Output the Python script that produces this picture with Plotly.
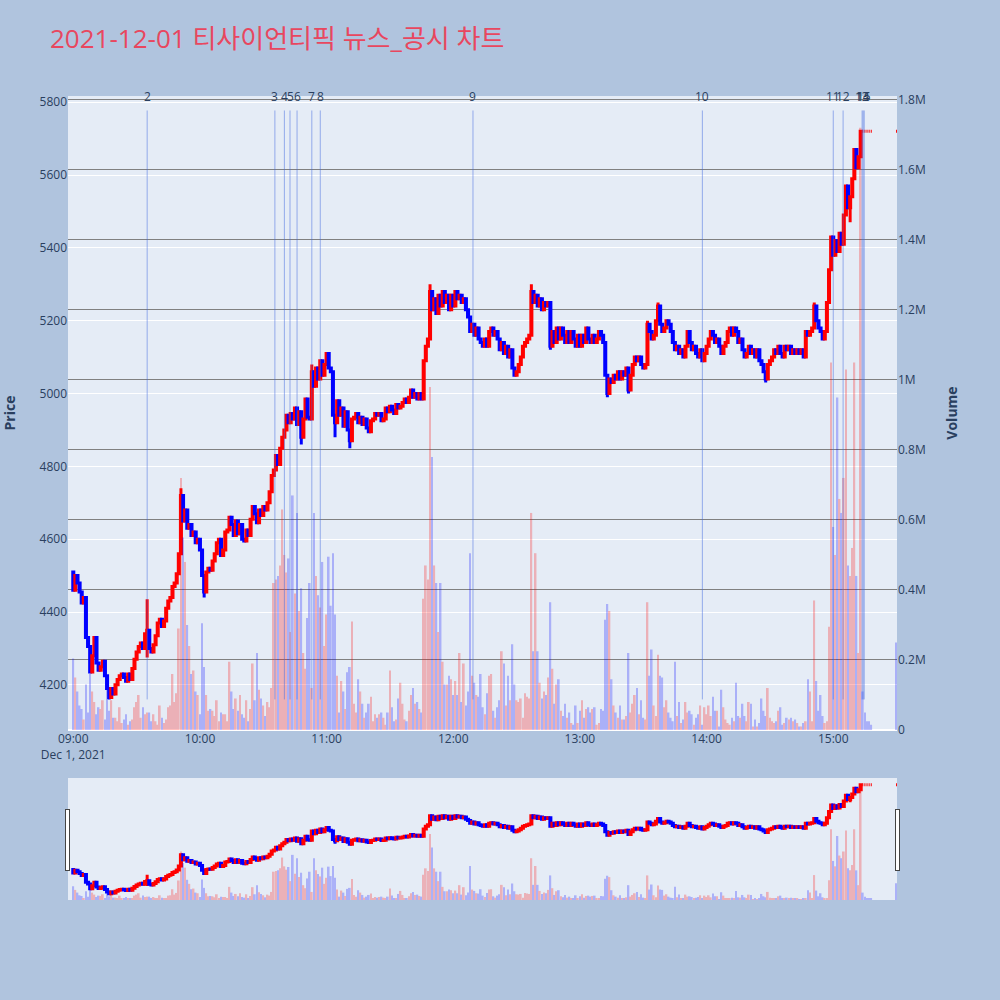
import pandas as pd
import plotly.graph_objects as go

chart_title = "2021-12-01 티사이언티픽 뉴스_공시 차트"
trade_date = "2021-12-01"

first_open = 4510
# 1-minute closes from 09:00 (10 per row)
closes = [
    4460, 4500, 4480, 4455, 4425, 4440, 4330, 4305, 4235, 4280,  # 09:00
    4330, 4260, 4240, 4250, 4265, 4225, 4190, 4165, 4190, 4175,
    4200, 4215, 4225, 4230, 4220, 4210, 4230, 4215, 4245, 4270,
    4290, 4305, 4315, 4300, 4340, 4350, 4300, 4290, 4310, 4335,
    4370, 4380, 4360, 4375, 4410, 4430, 4440, 4470, 4480, 4505,
    4560, 4720, 4650, 4680, 4630, 4640, 4610, 4620, 4590, 4600,
    4570, 4500, 4455, 4510, 4520, 4515, 4540, 4560, 4590, 4600,  # 10:00
    4555, 4570, 4620, 4625, 4660, 4640, 4610, 4650, 4615, 4640,
    4600, 4595, 4625, 4610, 4655, 4690, 4670, 4645, 4680, 4665,
    4690, 4680, 4700, 4730, 4775, 4790, 4830, 4805, 4850, 4880,
    4900, 4940, 4920, 4945, 4930, 4960, 4915, 4950, 4880, 4930,
    4985, 4935, 4930, 5060, 5020, 5070, 5040, 5090, 5050, 5080,
    5110, 5070, 5060, 4940, 4920, 4980, 4940, 4960, 4910, 4950,  # 11:00
    4900, 4870, 4930, 4935, 4945, 4920, 4935, 4915, 4930, 4905,
    4895, 4925, 4930, 4945, 4940, 4945, 4925, 4930, 4960, 4950,
    4965, 4955, 4945, 4970, 4960, 4965, 4975, 4985, 4975, 4990,
    5010, 4990, 5000, 4985, 5000, 4985, 5090, 5130, 5150, 5280,
    5230, 5260, 5220, 5270, 5240, 5280, 5250, 5270, 5230, 5270,
    5240, 5280, 5260, 5270, 5250, 5260, 5230, 5210, 5170, 5190,  # 12:00
    5160, 5180, 5150, 5140, 5130, 5150, 5130, 5170, 5180, 5160,
    5170, 5150, 5120, 5140, 5110, 5130, 5100, 5120, 5070, 5050,
    5060, 5080, 5100, 5130, 5140, 5150, 5160, 5280, 5250, 5270,
    5240, 5260, 5230, 5250, 5240, 5250, 5130, 5170, 5140, 5180,
    5150, 5180, 5160, 5140, 5170, 5140, 5170, 5150, 5130, 5160,
    5130, 5160, 5140, 5180, 5150, 5140, 5160, 5140, 5150, 5170,  # 13:00
    5160, 5140, 5050, 5000, 5040, 5030, 5050, 5040, 5060, 5040,
    5060, 5050, 5070, 5010, 5050, 5080, 5100, 5090, 5100, 5080,
    5070, 5080, 5190, 5170, 5150, 5160, 5200, 5240, 5190, 5170,
    5180, 5200, 5190, 5170, 5140, 5120, 5130, 5110, 5120, 5100,
    5130, 5170, 5140, 5120, 5130, 5110, 5100, 5120, 5090, 5110,
    5130, 5150, 5170, 5160, 5140, 5150, 5130, 5110, 5130, 5140,  # 14:00
    5170, 5180, 5160, 5180, 5170, 5140, 5150, 5120, 5100, 5110,
    5130, 5110, 5120, 5100, 5120, 5090, 5080, 5060, 5040, 5080,
    5090, 5100, 5120, 5110, 5130, 5110, 5100, 5130, 5120, 5130,
    5110, 5120, 5110, 5120, 5110, 5120, 5100, 5170, 5160, 5170,
    5180, 5240, 5200, 5180, 5170, 5150, 5170, 5250, 5340, 5430,
    5380, 5420, 5390, 5440, 5410, 5490, 5570, 5510, 5540, 5590,  # 15:00
    5670, 5620, 5650, 5720, 5720, 5720, 5720, 5720, 5720,
]
auction_time = "15:30"
auction_close = 5720

# volume per minute, thousand shares
volumes_k = [
    204, 150, 110, 70, 60, 30, 130, 50, 160, 110,
    80, 45, 65, 60, 85, 30, 120, 55, 85, 35,
    35, 25, 65, 20, 30, 45, 15, 25, 30, 65,
    80, 100, 35, 65, 45, 50, 50, 25, 45, 25,
    15, 70, 35, 20, 30, 65, 70, 160, 80, 105,
    290, 720, 550, 480, 300, 240, 160, 170, 110, 100,
    45, 305, 180, 100, 55, 60, 55, 40, 85, 25,
    50, 45, 45, 25, 195, 110, 60, 90, 55, 100,
    45, 35, 85, 25, 60, 190, 85, 220, 115, 90,
    70, 40, 80, 65, 120, 420, 430, 440, 470, 630,
    500, 450, 490, 280, 670, 390, 620, 340, 405, 220,
    175, 320, 420, 120, 620, 440, 385, 350, 480, 240,
    330, 495, 355, 505, 330, 155, 50, 140, 110, 60,
    165, 180, 310, 75, 50, 145, 110, 75, 35, 50,
    75, 95, 25, 45, 35, 45, 50, 35, 15, 50,
    170, 65, 25, 30, 90, 135, 75, 30, 25, 55,
    100, 120, 75, 80, 60, 50, 375, 470, 430, 980,
    780, 470, 420, 280, 420, 195, 130, 130, 155, 145,
    100, 140, 100, 220, 80, 190, 70, 110, 505, 155,
    135, 100, 95, 160, 65, 45, 105, 155, 160, 55,
    35, 65, 85, 225, 190, 70, 155, 85, 245, 130,
    85, 80, 90, 35, 105, 95, 90, 620, 225, 505,
    225, 135, 90, 110, 100, 150, 365, 175, 75, 130,
    145, 55, 40, 75, 35, 50, 20, 15, 70, 20,
    55, 85, 35, 60, 65, 50, 60, 65, 15, 20,
    60, 55, 315, 360, 340, 145, 70, 50, 35, 70,
    30, 30, 40, 220, 50, 75, 100, 120, 45, 85,
    35, 30, 365, 155, 230, 70, 40, 215, 155, 150,
    65, 85, 50, 35, 25, 195, 40, 80, 20, 30,
    80, 50, 55, 45, 15, 35, 45, 70, 15, 65,
    45, 70, 40, 95, 55, 55, 10, 115, 65, 30,
    20, 15, 35, 25, 135, 40, 35, 75, 40, 25,
    80, 75, 10, 30, 10, 20, 90, 55, 40, 120,
    35, 25, 20, 25, 55, 65, 15, 20, 35, 30,
    35, 25, 30, 20, 10, 10, 20, 25, 145, 110,
    25, 370, 140, 55, 100, 40, 20, 25, 295, 1050,
    580, 500, 950, 660, 620, 720, 1030, 470, 440, 520,
    1050, 440, 220, 1720, 110, 50, 25, 25, 15,
]
auction_volume_k = 250

# longer wicks (minute index -> price)
wick_high = {35: 4435, 51: 4740, 52: 4710, 113: 5080, 169: 5300, 217: 5300,
             272: 5200, 277: 5250, 351: 5250}
wick_low = {17: 4160, 35: 4275, 62: 4440, 108: 4860, 124: 4880, 131: 4850,
            226: 5120, 253: 4990, 263: 5000, 328: 5030, 368: 5470}

news_no = [2, 3, 4, 5, 6, 7, 8, 9, 10, 11, 12, 13, 14, 15]
news_time = ["09:35", "10:35:30", "10:40", "10:42:40", "10:46", "10:53", "10:57",
             "12:09:20", "13:58", "15:00", "15:04:40", "15:13:40", "15:14:10", "15:14:40"]

times = list(pd.date_range(f"{trade_date} 09:00", periods=len(closes), freq="min"))
times.append(pd.Timestamp(f"{trade_date} {auction_time}"))
close_all = closes + [auction_close]
open_all = [first_open] + close_all[:-1]
high_all = [max(o, c, wick_high.get(i, 0)) for i, (o, c) in enumerate(zip(open_all, close_all))]
low_all = [min(o, c, wick_low.get(i, 10 ** 6)) for i, (o, c) in enumerate(zip(open_all, close_all))]
vol_all = [v * 1000 for v in volumes_k + [auction_volume_k]]
vol_colors = ["red" if c > o else "blue" for o, c in zip(open_all, close_all)]

fig = go.Figure()
fig.add_trace(go.Candlestick(
    x=times, open=open_all, high=high_all, low=low_all, close=close_all,
    increasing=dict(line=dict(color="red", width=3), fillcolor="red"),
    decreasing=dict(line=dict(color="blue", width=3), fillcolor="blue"),
    name="Price",
))
fig.add_trace(go.Bar(
    x=times, y=vol_all, marker=dict(color=vol_colors, line_width=0),
    opacity=0.25, yaxis="y2", name="Volume",
))

line_top = max(high_all) * 1.01
line_bottom = min(low_all)
for n, t in zip(news_no, news_time):
    ts = f"{trade_date} {t}"
    fig.add_shape(type="line", x0=ts, x1=ts, y0=line_bottom, y1=line_top,
                  xref="x", yref="y", line=dict(color="royalblue", width=1), opacity=0.5)
    fig.add_annotation(x=ts, y=1, xref="x", yref="paper", yanchor="middle",
                       text=str(n), showarrow=False)

x_range = [f"{trade_date} 08:57:30", f"{trade_date} 15:30:12"]

fig.update_layout(
    title=dict(text=chart_title, x=0.05,
               font=dict(size=26, color="#E8475F", family="Open Sans, Noto Sans CJK KR")),
    paper_bgcolor="#B0C4DE",
    showlegend=False,
    width=1000, height=1000,
    margin=dict(l=68, r=103, t=96, b=100),
    xaxis=dict(range=x_range, showgrid=False,
               rangeslider=dict(visible=True, range=x_range, bgcolor="#E5ECF6",
                                thickness=0.152)),
    yaxis=dict(title=dict(text="<b>Price</b>", standoff=24), range=[4076, 5817],
               automargin=False),
    yaxis2=dict(title=dict(text="<b>Volume</b>", standoff=22), overlaying="y", side="right",
                range=[0, 1.811e6], gridcolor="gray", automargin=False),
)

# page without the default body margin, so the figure fills the window
fig.write_html("out.html", config={"displayModeBar": False},
               post_script="document.body.style.margin = '0';")
